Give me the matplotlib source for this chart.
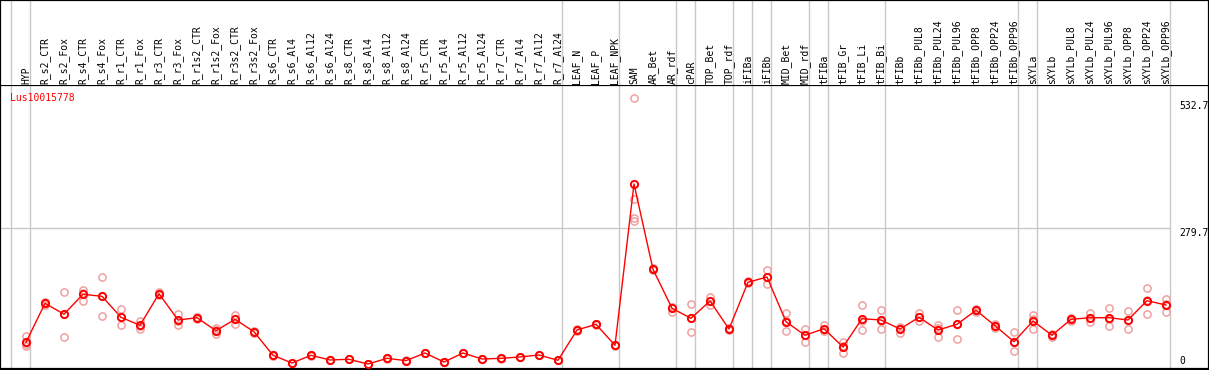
import numpy as np
import matplotlib
matplotlib.use("Agg")
import matplotlib.pyplot as plt
import matplotlib.transforms as mtransforms

# sample names (x categories)
samples = [
    "HYP", "R_s2_CTR", "R_s2_Fox", "R_s4_CTR", "R_s4_Fox", "R_r1_CTR", "R_r1_Fox",
    "R_r3_CTR", "R_r3_Fox", "R_r1s2_CTR", "R_r1s2_Fox", "R_r3s2_CTR", "R_r3s2_Fox",
    "R_s6_CTR", "R_s6_Al4", "R_s6_Al12", "R_s6_Al24", "R_s8_CTR", "R_s8_Al4",
    "R_s8_Al12", "R_s8_Al24", "R_r5_CTR", "R_r5_Al4", "R_r5_Al12", "R_r5_Al24",
    "R_r7_CTR", "R_r7_Al4", "R_r7_Al12", "R_r7_Al24", "LEAF_N", "LEAF_P", "LEAF_NPK",
    "SAM", "AR_Bet", "AR_rdf", "cPAR", "TOP_Bet", "TOP_rdf", "iFIBa", "iFIBb",
    "MID_Bet", "MID_rdf", "tFIBa", "tFIB_Gr", "tFIB_Li", "tFIB_Bi", "tFIBb",
    "tFIBb_PUL8", "tFIBb_PUL24", "tFIBb_PUL96", "tFIBb_OPP8", "tFIBb_OPP24",
    "tFIBb_OPP96", "sXYLa", "sXYLb", "sXYLb_PUL8", "sXYLb_PUL24", "sXYLb_PUL96",
    "sXYLb_OPP8", "sXYLb_OPP24", "sXYLb_OPP96",
]

# mean expression per sample
means = [
    53, 130.6, 109, 148.5, 144.5, 102.8, 86.9, 149.7, 97.4, 102, 76.2, 98.8, 74,
    27.2, 11.9, 27.2, 17.9, 19.3, 9.9, 21.2, 16.6, 31.8, 13.9, 31.8, 19.9, 21.2,
    23.9, 27.8, 17.3, 77.5, 88.8, 47.1, 367.8, 198.2, 120.7, 100.8, 135.2, 79.5,
    172.4, 182.9, 94, 67, 80.1, 43.7, 100, 97.4, 79.5, 102.8, 77.5, 88.8, 116.7,
    86.1, 54.3, 95.4, 67, 98.8, 102, 102, 97.4, 135.8, 127.2,
]

# individual replicates
replicates = [
    [65, 50, 45], [128, 131, 133], [152.5, 110, 64], [158, 151, 136],
    [182, 146, 105], [119, 103, 87], [96, 86, 79], [154, 149, 147],
    [109, 96, 87], [104, 103, 99], [81, 78, 69], [107, 100, 90], [76, 74, 72],
    [28, 27, 26], [12.5, 12, 11], [28, 27, 26.5], [18.5, 18, 17], [20, 19, 19],
    [10.5, 10, 9], [22, 21, 20.5], [17, 16.5, 16], [32.5, 32, 31],
    [14.5, 14, 13], [32.5, 31.5, 31.5], [20.5, 20, 19], [22, 21, 20.5],
    [24.5, 24, 23], [28.5, 28, 27], [18, 17, 17], [79, 77, 76.5],
    [90, 89, 87.5], [48, 47, 46.5], [538, 337, 300, 295], [200, 198, 196],
    [124, 124, 114], [128.6, 101, 73], [142.5, 136, 127], [81, 80, 78],
    [174, 172, 171], [197, 183, 168], [111, 96, 75.5], [79.5, 68, 53],
    [88, 77, 75], [54, 45, 32], [126.6, 96, 77], [117, 95, 80], [84, 82, 72],
    [111, 103, 95], [88, 81, 64], [118, 89, 59], [119, 117, 114],
    [90, 86, 82], [74, 54, 35], [107, 100, 80], [70, 67, 64],
    [101, 99, 96], [112, 101, 93], [121, 100, 85], [115, 97, 80],
    [162, 137, 109], [139, 130, 113],
]

# last sample index of each tissue group (-1 = left edge)
group_ends = [-1, 0, 28, 31, 34, 35, 37, 38, 39, 41, 42, 45, 52, 53, 60]
y_marks = [532.7, 279.7, 0]
gene = "Lus10015778"

W, H = 1209, 370
x0_px, step_px = 26, 19
header_px = 85
bottom_px = 369
val_per_px = 1.988

fig = plt.figure(figsize=(W / 100, H / 100), dpi=100)
mono = "DejaVu Sans Mono"

ax = fig.add_axes([0, (H - bottom_px) / H, 1, (bottom_px - header_px) / H])
hax = fig.add_axes([0, (H - header_px) / H, 1, header_px / H], sharex=ax)

xmin = -x0_px / step_px
xmax = (W - x0_px) / step_px
ax.set_xlim(xmin, xmax)
ax.set_ylim(0, (bottom_px - header_px) * val_per_px)
hax.set_ylim(0, header_px)

for a in (ax, hax):
    a.set_xticks([])
    a.set_yticks([])
    for s in a.spines.values():
        s.set_color("black")
        s.set_linewidth(1.6)
    for g in group_ends:
        a.axvline(g + 4 / step_px, color="#c8c8c8", lw=1, zorder=0)
hax.spines["bottom"].set_visible(False)

x = np.arange(len(samples))

# gray reference line
ax.plot([xmin, 60 + 4 / step_px], [y_marks[1], y_marks[1]], color="#c8c8c8", lw=1, zorder=0)

# replicate points
for i, reps in enumerate(replicates):
    ax.plot([i] * len(reps), reps, "o", ms=5.2, mfc="none", mec="#f0a0a0", mew=1.1,
            zorder=2, clip_on=False)

ax.plot(x, means, "-", color="red", lw=1, zorder=3)
ax.plot(x, means, "o", ms=5.2, mfc="none", mec="red", mew=1.4, zorder=4)

# header labels
for i, name in enumerate(samples):
    hax.text(i, 1.5, name, rotation=90, ha="center", va="bottom", fontsize=7,
             family=mono, color="black")

ax.text(10 / W, 1 - 13 / (bottom_px - header_px), gene, transform=ax.transAxes,
        color="red", fontsize=7, family=mono, ha="left", va="center")

# value labels on the right
tr = mtransforms.blended_transform_factory(ax.transAxes, ax.transData)
for v in y_marks[:2]:
    ax.text(1179 / W, v, f"{v}", transform=tr, fontsize=7, family=mono,
            ha="left", va="top")
ax.text(1179 / W, 3 * val_per_px, "0", transform=tr, fontsize=7, family=mono,
        ha="left", va="bottom")

fig.savefig("out.png", dpi=100)
